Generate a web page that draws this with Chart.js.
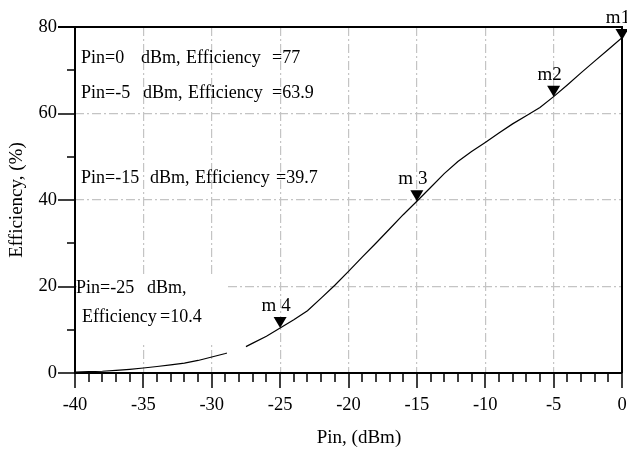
<!DOCTYPE html>
<html>
<head>
<meta charset="utf-8">
<title>Efficiency vs Pin</title>
<script src="https://cdn.jsdelivr.net/npm/chart.js"></script>
<style>
  html, body { margin: 0; padding: 0; background: #fff; }
</style>
</head>
<body>
<canvas id="effChart" width="627" height="455"></canvas>

<script>
// curve (null = the break near -28 dBm)
var pin = [-40, -39, -38, -37, -36, -35, -34, -33, -32, -31, -30, -29, -28.9, -28, -27.5,
           -27, -26, -25, -24, -23, -22, -21, -20, -19, -18, -17, -16, -15,
           -14, -13, -12, -11, -10, -9, -8, -7, -6, -5, -4, -3, -2, -1, 0];
var efficiency = [0.2, 0.3, 0.4, 0.6, 0.85, 1.15, 1.5, 1.9, 2.3, 2.9, 3.7, 4.5, 4.6, null, 6.1,
                  6.9, 8.5, 10.4, 12.3, 14.4, 17.3, 20.3, 23.5, 26.8, 30.0, 33.3, 36.6, 39.7,
                  42.9, 46.1, 48.9, 51.2, 53.3, 55.5, 57.6, 59.5, 61.4, 63.9, 66.6, 69.4, 72.1, 74.8, 77.5];

// markers
var markerNames = ['m1', 'm2', 'm 3', 'm 4'];
var markerPin = [0, -5, -15, -25];
var markerEff = [77, 63.9, 39.7, 10.4];

var xTicks = [-40, -35, -30, -25, -20, -15, -10, -5, 0];
var yTicks = [0, 20, 40, 60, 80];

var serif = '"Liberation Serif", "Times New Roman", serif';
var gridColor = '#c4c4c4';

var points = pin.map(function (p, i) { return { x: p, y: efficiency[i] }; });

var decor = {
    id: 'decor',
    beforeDatasetsDraw: function (chart) {
        // white box behind the lower note hides the grid
        var c = chart.ctx;
        c.save();
        c.fillStyle = '#fff';
        c.fillRect(77, 276, 148, 67);
        c.restore();
    },
    afterDraw: function (chart) {
        var c = chart.ctx, xs = chart.scales.x, ys = chart.scales.y, a = chart.chartArea;
        c.save();
        c.setLineDash([]);
        c.strokeStyle = '#000';
        c.lineWidth = 2;
        // frame: left, bottom, top, right
        c.beginPath();
        c.moveTo(a.left, a.top); c.lineTo(a.left, a.bottom); c.lineTo(a.right, a.bottom);
        c.moveTo(58, a.top); c.lineTo(a.right, a.top); c.lineTo(a.right, a.bottom);
        c.stroke();

        // y ticks
        c.lineWidth = 1.5;
        c.beginPath();
        for (var v = 0; v <= 80; v += 10) {
            var py = Math.round(ys.getPixelForValue(v));
            c.moveTo(a.left, py);
            c.lineTo(v % 20 === 0 ? 58 : 67, py);
        }
        // x ticks
        for (var t = -40; t <= 0; t++) {
            var px = Math.round(xs.getPixelForValue(t));
            c.moveTo(px, a.bottom);
            c.lineTo(px, a.bottom + (t % 5 === 0 ? 15 : 9));
        }
        c.stroke();

        // markers
        c.fillStyle = '#000';
        c.font = '19px ' + serif;
        c.textAlign = 'center';
        c.textBaseline = 'alphabetic';
        for (var i = 0; i < markerNames.length; i++) {
            var mx = xs.getPixelForValue(markerPin[i]);
            var my = ys.getPixelForValue(markerEff[i]);
            c.beginPath();
            c.moveTo(mx, my);
            c.lineTo(mx - 6.5, my - 11);
            c.lineTo(mx + 6.5, my - 11);
            c.closePath();
            c.fill();
            c.fillText(markerNames[i], mx - 4, my - 17);
        }

        // x axis title, a little right of centre as in the original
        c.font = '19px ' + serif;
        c.textBaseline = 'middle';
        c.fillText('Pin, (dBm)', 359, 438);

        // notes
        c.font = '18px ' + serif;
        c.textAlign = 'left';
        c.textBaseline = 'alphabetic';
        var notes = [
            ['Pin=0', 81, 63], ['dBm,', 141, 63], ['Efficiency', 186, 63], ['=77', 272, 63],
            ['Pin=-5', 81, 98], ['dBm,', 143, 98], ['Efficiency', 188, 98], ['=63.9', 272, 98],
            ['Pin=-15', 81, 183], ['dBm,', 150, 183], ['Efficiency', 195, 183], ['=39.7', 276, 183],
            ['Pin=-25', 76, 293], ['dBm,', 147, 293],
            ['Efficiency', 82, 322], ['=10.4', 160, 322]
        ];
        notes.forEach(function (n) { c.fillText(n[0], n[1], n[2]); });
        c.restore();
    }
};

function gridFor(edges) {
    return {
        drawTicks: false,
        lineWidth: 1.2,
        color: function (g) {
            return (g.tick && edges.indexOf(g.tick.value) >= 0) ? 'rgba(0,0,0,0)' : gridColor;
        }
    };
}

var ctx = document.getElementById('effChart').getContext('2d');
var effChart = new Chart(ctx, {
    type: 'line',
    data: {
        datasets: [{
            data: points,
            borderColor: '#000',
            borderWidth: 1.2,
            pointRadius: 0,
            spanGaps: false,
            tension: 0
        }]
    },
    options: {
        responsive: false,
        animation: false,
        devicePixelRatio: 1,
        layout: { padding: { top: 27, right: 5, left: 0, bottom: 0 } },
        plugins: { legend: { display: false }, tooltip: { enabled: false } },
        scales: {
            x: {
                type: 'linear',
                min: -40, max: 0,
                afterBuildTicks: function (s) { s.ticks = xTicks.map(function (v) { return { value: v }; }); },
                afterFit: function (s) { s.height = 82; s.paddingLeft = 0; s.paddingRight = 0; },
                ticks: { color: '#000', padding: 21, maxRotation: 0, font: { family: serif, size: 18.5 } },
                grid: gridFor([-40, 0]),
                border: { display: false, dash: [9, 3, 2, 3] },
                title: { display: false }
            },
            y: {
                min: 0, max: 80,
                afterBuildTicks: function (s) { s.ticks = yTicks.map(function (v) { return { value: v }; }); },
                afterFit: function (s) { s.width = 75; s.paddingTop = 0; s.paddingBottom = 0; },
                ticks: { color: '#000', padding: 18, font: { family: serif, size: 18.5 } },
                grid: gridFor([0, 80]),
                border: { display: false, dash: [9, 3, 2, 3] },
                title: { display: true, text: 'Efficiency, (%)', color: '#000', font: { family: serif, size: 19 }, padding: { top: 6, bottom: 6 } }
            }
        }
    },
    plugins: [decor]
});
</script>
</body>
</html>
